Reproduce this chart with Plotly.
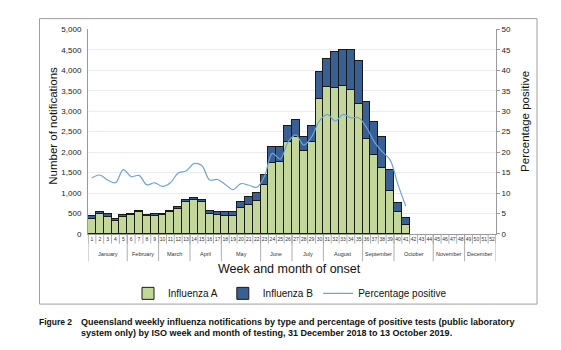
import plotly.graph_objects as go

weeks = list(range(1, 53))
flu_a = [365, 484, 413, 318, 413, 453, 516, 437, 421, 445, 540, 611, 778, 818, 778,
         476, 445, 421, 421, 619, 707, 794, 1183, 1731, 1755, 2231, 2366, 2009, 2247,
         3295, 3581, 3557, 3605, 3517, 3176, 2303, 1929, 1604, 1048, 516, 222]
flu_b = [56, 56, 55, 47, 32, 31, 48, 23, 47, 39, 24, 40, 32, 63, 32,
         72, 71, 95, 95, 143, 190, 206, 246, 381, 357, 389, 413, 357, 381,
         651, 675, 874, 881, 969, 1032, 913, 794, 762, 500, 238, 159]
pct_pos = [13.7, 14.4, 13.2, 12.5, 15.7, 14.0, 14.3, 12.0, 12.5, 11.6, 12.5, 14.9, 15.4,
           17.2, 16.7, 13.2, 13.3, 12.1, 10.8, 12.3, 11.9, 11.4, 14.1, 19.7, 18.3, 22.5,
           24.2, 21.7, 23.7, 27.6, 29.2, 27.6, 29.2, 28.4, 28.4, 26.0, 22.5, 20.1, 18.1,
           12.1, 6.8]
months = ["January", "February", "March", "April", "May", "June", "July", "August",
          "September", "October", "November", "December"]
month_weeks = [5, 4, 4, 4, 5, 4, 4, 5, 4, 5, 4, 4]

W, H = 561, 350
def py(p):  # pixel y -> paper
    return (H - p) / H
def px(p):
    return p / W

data_weeks = weeks[:len(flu_a)]

fig = go.Figure()
fig.add_trace(go.Bar(x=data_weeks, y=flu_a, name="Influenza A",
                     marker=dict(color="#C4D79B", line=dict(color="#1a1a1a", width=1))))
fig.add_trace(go.Bar(x=data_weeks, y=flu_b, name="Influenza B",
                     marker=dict(color="#3A5F92", line=dict(color="#1a1a1a", width=1))))
fig.add_trace(go.Scatter(x=data_weeks, y=pct_pos, name="Percentage positive", yaxis="y2",
                         mode="lines", line=dict(color="#6FA3DC", width=1.2, shape="spline")))

font = "Liberation Sans, Arial, sans-serif"
shapes = []
annotations = []

# week separators
for i in range(len(weeks) + 1):
    shapes.append(dict(type="line", xref="x", yref="paper", x0=i + 0.5, x1=i + 0.5,
                       y0=py(236), y1=py(246), line=dict(color="#9a9a9a", width=0.8)))
# month separators and labels
start = 0
for m, n in zip(months, month_weeks):
    shapes.append(dict(type="line", xref="x", yref="paper", x0=start + 0.5, x1=start + 0.5,
                       y0=py(236), y1=py(264), line=dict(color="#9a9a9a", width=0.8)))
    annotations.append(dict(x=start + 0.5 + n / 2, y=py(257), xref="x", yref="paper",
                            xanchor="center", yanchor="middle",
                            text=m, showarrow=False, font=dict(size=5.5, family=font, color="#333")))
    start += n
shapes.append(dict(type="line", xref="x", yref="paper", x0=start + 0.5, x1=start + 0.5,
                   y0=py(236), y1=py(264), line=dict(color="#9a9a9a", width=0.8)))
# outer box
shapes.append(dict(type="rect", xref="paper", yref="paper", x0=px(39.5), x1=px(537),
                   y0=py(308), y1=py(15), line=dict(color="#a0a0a0", width=1)))

annotations += [
    dict(x=px(289), y=py(272), xref="paper", yref="paper", text="Week and month of onset",
         xanchor="center", yanchor="middle",
         showarrow=False, font=dict(size=12.5, family=font, color="#111")),
    dict(x=px(53), y=py(125), xref="paper", yref="paper", text="Number of notifications",
         xanchor="center", yanchor="middle",
         textangle=-90, showarrow=False, font=dict(size=11.5, family=font, color="#111")),
    dict(x=px(525), y=py(121), xref="paper", yref="paper", text="Percentage positive",
         xanchor="center", yanchor="middle",
         textangle=-90, showarrow=False, font=dict(size=11.5, family=font, color="#111")),
    dict(x=px(37), y=py(326), xref="paper", yref="paper", xanchor="left", yanchor="middle",
         text="<b>Figure 2</b>",
         showarrow=False, font=dict(size=8.5, family=font, color="#111")),
    dict(x=px(79), y=py(326), xref="paper", yref="paper", xanchor="left", yanchor="middle",
         text="<b>Queensland weekly influenza notifications by type and percentage of positive tests (public laboratory</b>",
         showarrow=False, font=dict(size=9, family=font, color="#111")),
    dict(x=px(79), y=py(338), xref="paper", yref="paper", xanchor="left", yanchor="middle",
         text="<b>system only) by ISO week and month of testing, 31 December 2018 to 13 October 2019.</b>",
         showarrow=False, font=dict(size=9, family=font, color="#111")),
]

fig.update_layout(
    width=W, height=H, autosize=False,
    margin=dict(l=0, r=0, t=0, b=0),
    paper_bgcolor="white", plot_bgcolor="white",
    barmode="stack", bargap=0,
    font=dict(family=font, color="#222"),
    showlegend=True,
    legend=dict(orientation="h", x=px(290), xanchor="center", y=py(297), yanchor="middle",
                traceorder="normal",
                font=dict(size=10, family=font, color="#111"), itemwidth=30,
                bgcolor="rgba(0,0,0,0)"),
    xaxis=dict(domain=[px(88), px(496)], range=[0.5, 52.5], tickmode="array",
               tickvals=weeks, ticktext=[str(w) for w in weeks], tickangle=0,
               tickfont=dict(size=5, family=font, color="#333"), ticks="",
               showgrid=False, zeroline=False, showline=True, linecolor="#9a9a9a",
               linewidth=1, fixedrange=True),
    yaxis=dict(domain=[py(236), py(26)], range=[0, 5000], dtick=500, tickformat=",",
               tickfont=dict(size=8, family=font, color="#222"), showgrid=True,
               gridcolor="#ececec", gridwidth=1, zeroline=False, showline=True,
               linecolor="#9a9a9a", linewidth=1, ticks="", ticklabelstandoff=4),
    yaxis2=dict(overlaying="y", side="right", range=[0, 50], dtick=5,
                tickfont=dict(size=8, family=font, color="#222"), showgrid=False,
                zeroline=False, showline=True, linecolor="#9a9a9a", linewidth=1,
                ticks="outside", ticklen=3, tickcolor="#9a9a9a"),
    shapes=shapes, annotations=annotations,
)

fig.write_html("out.html")
